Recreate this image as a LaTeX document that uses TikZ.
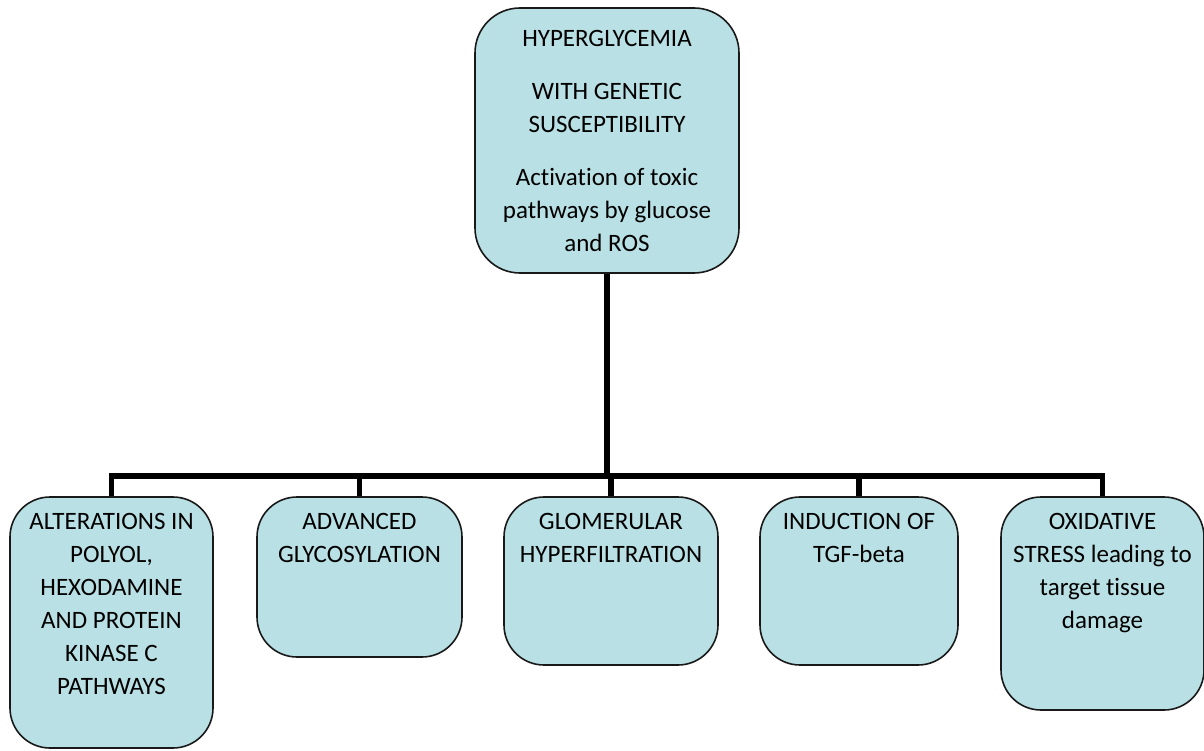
\documentclass[tikz,border=0pt]{standalone}
\usepackage{fontspec}
\setmainfont{Carlito}[Ligatures=NoCommon]
\definecolor{boxfill}{RGB}{185,224,228}
\newcommand{\boxtext}[4][32pt]{\parbox[c][#3][t]{#2}{\centering\rule{0pt}{#1}#4}}

\begin{document}
\begin{tikzpicture}[x=1pt,y=-1pt,
	box/.style={draw=black!90, line width=1.6pt, fill=boxfill, rounded corners=40pt,
		inner sep=0pt, font=\fontsize{25}{33}\selectfont},
	conn/.style={line width=5.5pt}]
	\useasboundingbox (0,0) rectangle (1204,751);

	\node[box,rounded corners=45pt] (top) at (607,140.5) {\boxtext[39pt]{264pt}{265pt}{HYPERGLYCEMIA\\[20pt]
		WITH GENETIC\\SUSCEPTIBILITY\\[20pt]
		Activation of toxic\\pathways by glucose\\and ROS}};

	\node[box] (b1) at (111.5,622.5) {\boxtext{203pt}{251pt}{ALTERATIONS IN\\POLYOL,\\HEXODAMINE\\AND PROTEIN\\KINASE C\\PATHWAYS}};
	\node[box] (b2) at (359.5,577) {\boxtext{205pt}{160pt}{ADVANCED\\GLYCOSYLATION}};
	\node[box] (b3) at (611,581) {\boxtext{214pt}{168pt}{GLOMERULAR\\HYPERFILTRATION}};
	\node[box] (b4) at (859,581) {\boxtext{198pt}{168pt}{INDUCTION OF\\TGF-beta}};
	\node[box] (b5) at (1102.5,603.5) {\boxtext{203pt}{213pt}{OXIDATIVE\\STRESS leading to\\target tissue\\damage}};

	\draw[conn] (top.south) -- ++(0,202) coordinate (hub);
	\draw[conn] (b1.north) -- (b1.north |- hub) -- (b5.north |- hub) -- (b5.north);
	\foreach \n in {b2,b3,b4}
		\draw[conn] (\n.north) -- (\n.north |- hub);
\end{tikzpicture}
\end{document}
